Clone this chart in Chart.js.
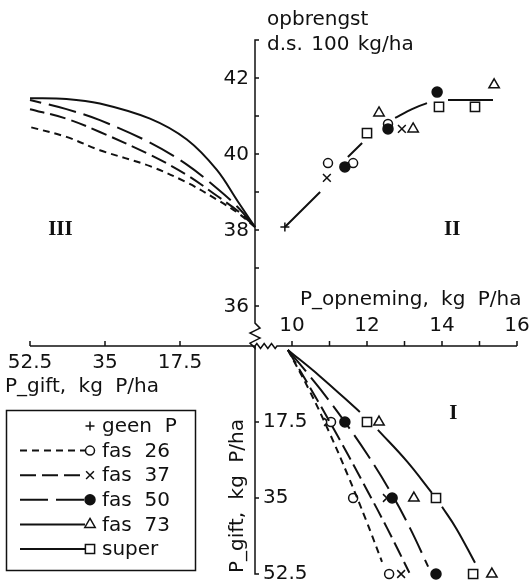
<!DOCTYPE html>
<html>
<head>
<meta charset="utf-8">
<script src="https://cdn.jsdelivr.net/npm/chart.js@4.4.0/dist/chart.umd.min.js"></script>
<style>
  html, body { margin: 0; padding: 0; background: #fff; }
  #wrap { position: relative; width: 530px; height: 586px; }
</style>
</head>
<body>
<div id="wrap"><canvas id="chart" width="530" height="586"></canvas></div>
<script>
"use strict";

// ---- tick values ----
const yieldTicks = [36, 38, 40, 42];
const yieldMinorTicks = [37, 39, 41];
const opnTicks = [10, 12, 14, 16];
const opnMinorTicks = [11, 13, 15];
const giftTicks = [17.5, 35, 52.5];

// ---- quadrant III: opbrengst vs P-gift (curves) ----
const q3Gift = [0, 4, 8.9, 15.9, 24.5, 36.2, 44, 52.5];
const q3Yield26 = [38.08, 38.45, 38.8, 39.25, 39.68, 40.1, 40.45, 40.71];
const q3Yield37 = [38.08, 38.5, 38.9, 39.45, 39.98, 40.58, 40.93, 41.18];
const q3Yield50 = [38.08, 38.6, 39.1, 39.72, 40.3, 40.89, 41.18, 41.42];
const q3Yield73 = [38.08, 38.75, 39.58, 40.38, 40.93, 41.33, 41.45, 41.47];

// ---- quadrant II: opbrengst vs P-opneming ----
const q2GeenOpn = [9.81];
const q2GeenYield = [38.08];
const q2Fas26Opn = [10.96, 11.63, 12.56];
const q2Fas26Yield = [39.76, 39.76, 40.79];
const q2Fas37Opn = [10.93, 12.93];
const q2Fas37Yield = [39.37, 40.66];
const q2Fas50Opn = [11.41, 12.56, 13.87];
const q2Fas50Yield = [39.66, 40.66, 41.63];
const q2Fas73Opn = [12.32, 13.23, 15.39];
const q2Fas73Yield = [41.08, 40.66, 41.82];
const q2SuperOpn = [12.0, 13.92, 14.88];
const q2SuperYield = [40.55, 41.24, 41.24];
// fitted curve, null = gap around the markers
const q2CurveOpn = [9.81, 10.75, null, 11.49, 11.87, null, 12.75, 13.2, 13.6, null, 14.16, 15.36];
const q2CurveYield = [38.08, 39.0, null, 39.92, 40.29, null, 40.95, 41.18, 41.34, null, 41.42, 41.42];

// ---- quadrant I: P-opneming vs P-gift ----
const q1GiftLevels = [17.5, 35, 52.5];
const q1Fas26Opn = [11.04, 11.63, 12.59];
const q1Fas37Opn = [10.96, 12.53, 12.91];
const q1Fas50Opn = [11.41, 12.67, 13.84];
const q1Fas73Opn = [12.32, 13.25, 15.33];
const q1SuperOpn = [12.0, 13.84, 14.83];

const q1Line26Opn = [9.89, 10.45, 11.0, 11.5, 11.97, 12.4];
const q1Line26Gift = [0.9, 10, 20, 30, 40, 49.7];
const q1Line37Opn = [9.89, 10.17, 10.51, 11.01, 11.49, 12.02, 12.54, 13.13];
const q1Line37Gift = [0.9, 5, 10, 17.5, 25, 33.5, 42, 52.2];
const q1Line50Opn = [9.89, 10.29, 10.76, 11.41, 12.01, 12.62, 13.15, 13.63];
const q1Line50Gift = [0.9, 5, 10, 17.5, 25, 33.5, 42, 50.8];
const q1Line73Opn = [9.89, 10.75, 11.81, null, 12.29, 13.06, 13.73, null, 14.0, 14.38, 14.88];
const q1Line73Gift = [0.9, 7, 15.2, null, 19.3, 26.5, 33.8, null, 37.0, 42, 49.9];

const legendLabels = ["geen  P", "fas  26", "fas  37", "fas  50", "fas  73", "super"];

// ---- styles ----
const INK = "#111";
const FONT = '"DejaVu Sans", sans-serif';
const dash26 = [7, 5];
const dash37 = [16, 6];
const dash50 = [28, 8];

const markerGeen = { style: "cross", radius: 4.5, fill: "#fff" };
const marker26 = { style: "circle", radius: 4.5, fill: "#fff" };
const marker37 = { style: "crossRot", radius: 5.5, fill: "#fff" };
const marker50 = { style: "circle", radius: 5, fill: INK };
const marker73 = { style: "triangle", radius: 6, fill: "#fff" };
const markerSuper = { style: "rect", radius: 6.5, fill: "#fff" };

// ---- geometry of the four quadrants (pixels) ----
const W = 530, H = 586;
const opnAt10 = 292, pxPerOpn = 37.5;          // P-opneming axis
const giftX0 = 255, pxPerGiftX = 225 / 52.5;    // P-gift axis, left
const yieldAt38 = 230, pxPerYield = 38;         // opbrengst axis
const giftY0 = 346, pxPerGiftY = 228 / 52.5;    // P-gift axis, down

function pts(xs, ys) {
  return xs.map((x, i) => ({ x: x, y: ys[i] }));
}

function curve(xs, ys, xAxisID, yAxisID, dash, tension) {
  return {
    data: pts(xs, ys),
    xAxisID, yAxisID,
    showLine: true,
    borderColor: INK,
    borderWidth: 2,
    borderDash: dash || [],
    pointRadius: 0,
    tension: tension,
    spanGaps: false,
    clip: false,
  };
}

function markers(xs, ys, xAxisID, yAxisID, m) {
  return {
    data: pts(xs, ys),
    xAxisID, yAxisID,
    showLine: false,
    pointStyle: m.style,
    pointRadius: m.radius,
    pointBorderWidth: 1.5,
    pointBorderColor: INK,
    pointBackgroundColor: m.fill,
    clip: false,
  };
}

const q1Gift = (arr) => q1GiftLevels.slice(0, arr.length);

const datasets = [
  // quadrant III
  curve(q3Gift, q3Yield26, "xGift", "yYield", dash26, 0.35),
  curve(q3Gift, q3Yield37, "xGift", "yYield", dash37, 0.35),
  curve(q3Gift, q3Yield50, "xGift", "yYield", dash50, 0.35),
  curve(q3Gift, q3Yield73, "xGift", "yYield", null, 0.35),
  // quadrant II
  curve(q2CurveOpn, q2CurveYield, "xOpn", "yYield", null, 0.3),
  markers(q2GeenOpn, q2GeenYield, "xOpn", "yYield", markerGeen),
  markers(q2Fas50Opn, q2Fas50Yield, "xOpn", "yYield", marker50),
  markers(q2Fas26Opn, q2Fas26Yield, "xOpn", "yYield", marker26),
  markers(q2Fas37Opn, q2Fas37Yield, "xOpn", "yYield", marker37),
  markers(q2Fas73Opn, q2Fas73Yield, "xOpn", "yYield", marker73),
  markers(q2SuperOpn, q2SuperYield, "xOpn", "yYield", markerSuper),
  // quadrant I
  curve(q1Line26Opn, q1Line26Gift, "xOpn", "yGift", dash26, 0.4),
  curve(q1Line37Opn, q1Line37Gift, "xOpn", "yGift", dash37, 0.4),
  curve(q1Line50Opn, q1Line50Gift, "xOpn", "yGift", dash50, 0.4),
  curve(q1Line73Opn, q1Line73Gift, "xOpn", "yGift", null, 0.4),
  markers(q1Fas26Opn, q1Gift(q1Fas26Opn), "xOpn", "yGift", marker26),
  markers(q1Fas37Opn, q1Gift(q1Fas37Opn), "xOpn", "yGift", marker37),
  markers(q1Fas50Opn, q1Gift(q1Fas50Opn), "xOpn", "yGift", marker50),
  markers(q1Fas73Opn, q1Gift(q1Fas73Opn), "xOpn", "yGift", marker73),
  markers(q1SuperOpn, q1Gift(q1SuperOpn), "xOpn", "yGift", markerSuper),
];

function drawMarker(ctx, m, x, y) {
  ctx.fillStyle = m.fill;
  ctx.strokeStyle = INK;
  ctx.lineWidth = 1.5;
  ctx.setLineDash([]);
  Chart.helpers.drawPoint(ctx, { pointStyle: m.style, radius: m.radius, rotation: 0, borderWidth: 1.5 }, x, y);
}

/**
 * Axes, ticks and axis breaks for the four quadrants
 */
const axesPlugin = {
  id: "quadrantAxes",
  beforeDatasetsDraw(chart) {
    const { ctx } = chart;
    const { xOpn, xGift, yYield, yGift } = chart.scales;
    const ax = xGift.getPixelForValue(0);
    const ay = yGift.getPixelForValue(0);
    ctx.save();
    ctx.strokeStyle = INK;
    ctx.lineWidth = 1.5;
    ctx.setLineDash([]);
    ctx.lineCap = "butt";

    // upper vertical axis (opbrengst) with break
    const top = yYield.getPixelForValue(43);
    const brk = yYield.getPixelForValue(35.55);
    ctx.beginPath();
    ctx.moveTo(ax + 4, top);
    ctx.lineTo(ax, top);
    ctx.lineTo(ax, brk);
    [5, -5, 5, -5, 0].forEach((dx, i) => ctx.lineTo(ax + dx, brk + (i + 1) * 5));
    ctx.lineTo(ax, ay);
    ctx.stroke();
    ctx.beginPath();
    yieldTicks.concat(yieldMinorTicks).forEach((v) => {
      const y = yYield.getPixelForValue(v);
      ctx.moveTo(ax, y);
      ctx.lineTo(ax + 4, y);
    });
    ctx.stroke();

    // lower vertical axis (P-gift)
    const bottom = yGift.getPixelForValue(52.5);
    ctx.beginPath();
    ctx.moveTo(ax, ay);
    ctx.lineTo(ax, bottom);
    ctx.lineTo(ax + 4, bottom);
    giftTicks.forEach((v) => {
      const y = yGift.getPixelForValue(v);
      ctx.moveTo(ax, y);
      ctx.lineTo(ax + 4, y);
    });
    ctx.stroke();

    // left horizontal axis (P-gift)
    const left = xGift.getPixelForValue(52.5);
    ctx.beginPath();
    ctx.moveTo(left, ay);
    ctx.lineTo(ax, ay);
    giftTicks.forEach((v) => {
      const x = xGift.getPixelForValue(v);
      ctx.moveTo(x, ay);
      ctx.lineTo(x, ay - 5);
    });
    ctx.stroke();

    // right horizontal axis (P-opneming) with break
    const start = xOpn.getPixelForValue(9.6);
    const right = xOpn.getPixelForValue(16);
    ctx.beginPath();
    ctx.moveTo(ax, ay);
    const step = (start - ax) / 6;
    [-2.5, 2.5, -2.5, 2.5, -2.5, 2.5].forEach((dy, i) => ctx.lineTo(ax + (i + 0.5) * step, ay + dy));
    ctx.lineTo(start, ay);
    ctx.lineTo(right, ay);
    opnTicks.concat(opnMinorTicks).forEach((v) => {
      const x = xOpn.getPixelForValue(v);
      ctx.moveTo(x, ay);
      ctx.lineTo(x, ay - 5);
    });
    ctx.stroke();
    ctx.restore();
  },

  afterDatasetsDraw(chart) {
    const { ctx } = chart;
    const { xOpn, xGift, yYield, yGift } = chart.scales;
    const ax = xGift.getPixelForValue(0);
    const ay = yGift.getPixelForValue(0);
    ctx.save();
    ctx.fillStyle = INK;
    ctx.font = "20px " + FONT;

    // tick labels
    ctx.textAlign = "right";
    ctx.textBaseline = "middle";
    yieldTicks.forEach((v) => ctx.fillText(String(v), ax - 6, yYield.getPixelForValue(v) + 1));

    ctx.textAlign = "center";
    opnTicks.forEach((v) => ctx.fillText(String(v), xOpn.getPixelForValue(v), ay - 20));
    giftTicks.forEach((v) => ctx.fillText(String(v), xGift.getPixelForValue(v), ay + 17));

    ctx.textAlign = "left";
    giftTicks.forEach((v) => ctx.fillText(String(v), ax + 8, yGift.getPixelForValue(v)));

    // axis titles
    ctx.textBaseline = "alphabetic";
    ctx.wordSpacing = "2px";
    ctx.fillText("opbrengst", ax + 12, 25);
    ctx.fillText("d.s. 100 kg/ha", ax + 12, 50);
    ctx.wordSpacing = "6px";
    ctx.fillText("P_opneming, kg P/ha", 300, 305);
    ctx.fillText("P_gift, kg P/ha", 5, 392);
    ctx.save();
    ctx.translate(ax - 12, 573);
    ctx.rotate(-Math.PI / 2);
    ctx.fillText("P_gift, kg P/ha", 0, 0);
    ctx.restore();
    ctx.wordSpacing = "0px";

    // quadrant numerals
    ctx.font = 'bold 21px "Liberation Serif", serif';
    ctx.textAlign = "center";
    ctx.textBaseline = "middle";
    ctx.fillText("III", xGift.getPixelForValue(45.4), yYield.getPixelForValue(38));
    ctx.fillText("II", xOpn.getPixelForValue(14.27), yYield.getPixelForValue(38));
    ctx.fillText("I", xOpn.getPixelForValue(14.3), yGift.getPixelForValue(15.6));

    // legend box
    const box = { x: 6, y: 410, w: 189, h: 160 };
    ctx.strokeStyle = INK;
    ctx.lineWidth = 1.5;
    ctx.strokeRect(box.x + 0.5, box.y + 0.5, box.w, box.h);
    const legendMarkers = [markerGeen, marker26, marker37, marker50, marker73, markerSuper];
    const legendDash = [null, dash26, dash37, dash50, [], []];
    ctx.font = "20px " + FONT;
    ctx.textAlign = "left";
    ctx.textBaseline = "middle";
    legendLabels.forEach((label, i) => {
      const y = 426 + i * 24.6;
      if (legendDash[i]) {
        ctx.beginPath();
        ctx.setLineDash(legendDash[i]);
        ctx.lineWidth = 2;
        ctx.strokeStyle = INK;
        ctx.moveTo(20, y);
        ctx.lineTo(85, y);
        ctx.stroke();
      }
      drawMarker(ctx, legendMarkers[i], 90, y);
      ctx.fillStyle = INK;
      ctx.fillText(label, 102, y + 1);
    });
    ctx.restore();
  },
};

const chart = new Chart(document.getElementById("chart"), {
  type: "scatter",
  data: { datasets },
  options: {
    responsive: false,
    animation: false,
    devicePixelRatio: 1,
    events: [],
    layout: { padding: 0, autoPadding: false },
    plugins: { legend: { display: false }, tooltip: { enabled: false } },
    scales: {
      xOpn: {
        type: "linear", axis: "x", display: false,
        min: 10 - opnAt10 / pxPerOpn,
        max: 10 - opnAt10 / pxPerOpn + W / pxPerOpn,
      },
      xGift: {
        type: "linear", axis: "x", display: false, reverse: true,
        min: giftX0 / pxPerGiftX - W / pxPerGiftX,
        max: giftX0 / pxPerGiftX,
      },
      yYield: {
        type: "linear", axis: "y", display: false,
        min: 38 + yieldAt38 / pxPerYield - H / pxPerYield,
        max: 38 + yieldAt38 / pxPerYield,
      },
      yGift: {
        type: "linear", axis: "y", display: false, reverse: true,
        min: -giftY0 / pxPerGiftY,
        max: -giftY0 / pxPerGiftY + H / pxPerGiftY,
      },
    },
  },
  plugins: [axesPlugin],
});
</script>
</body>
</html>
